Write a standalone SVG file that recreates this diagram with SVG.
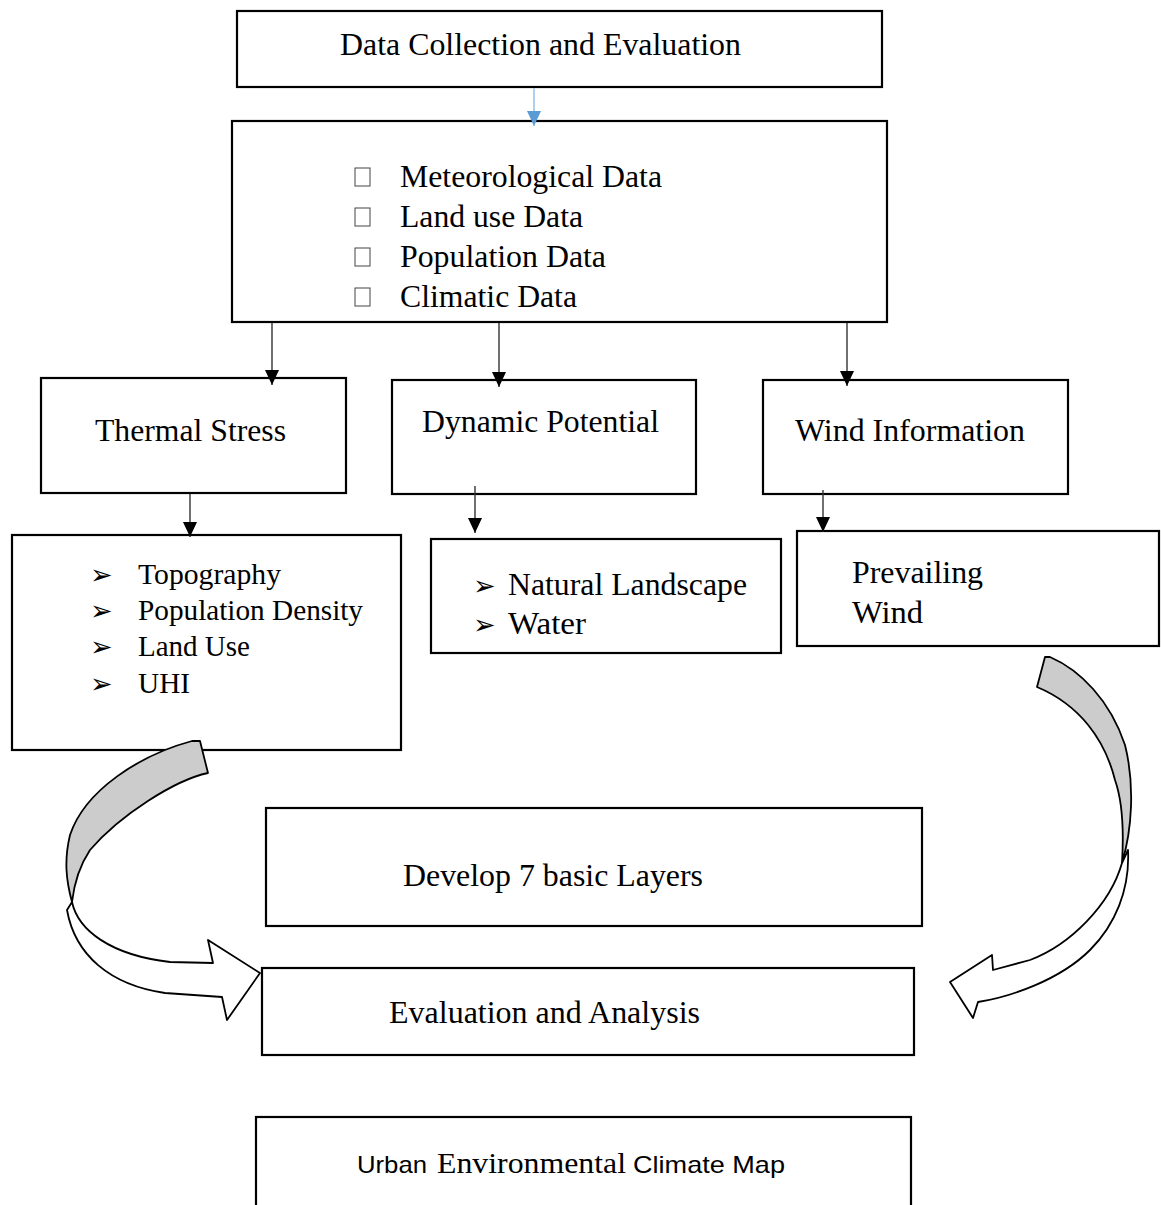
<svg xmlns="http://www.w3.org/2000/svg" width="1161" height="1205" viewBox="0 0 1161 1205">
<defs>
<style>
.box{fill:#fff;stroke:#000;stroke-width:2.2}
.t{font-family:"Liberation Serif","Times New Roman",serif;fill:#000}
.s{font-family:"Liberation Sans",Arial,sans-serif;fill:#000}
.b{font-family:"DejaVu Sans",sans-serif;fill:#000}
.ln{stroke:#333;stroke-width:1.4;fill:none}
.sq{fill:none;stroke:#444;stroke-width:1}
.cv{stroke:#000;stroke-width:1.8;stroke-linejoin:round}
</style>
<marker id="ah" markerUnits="userSpaceOnUse" markerWidth="15" markerHeight="14" viewBox="0 0 15 14" refX="15" refY="7" orient="auto">
<path d="M0,0 L15,7 L0,14 Z" fill="#000"/>
</marker>
<marker id="ahb" markerUnits="userSpaceOnUse" markerWidth="15" markerHeight="14" viewBox="0 0 15 14" refX="15" refY="7" orient="auto">
<path d="M0,0 L15,7 L0,14 Z" fill="#5b9bd5"/>
</marker>
</defs>
<rect width="1161" height="1205" fill="#fff"/>

<g id="n1"><rect class="box" x="237" y="11" width="645" height="76"/>
<text class="t" x="340" y="55" font-size="32" textLength="401" lengthAdjust="spacingAndGlyphs">Data Collection and Evaluation</text></g>

<g id="n2"><rect class="box" x="232" y="121" width="655" height="201"/>
<rect class="sq" x="355" y="168" width="15" height="18"/>
<rect class="sq" x="355" y="208" width="15" height="18"/>
<rect class="sq" x="355" y="248" width="15" height="18"/>
<rect class="sq" x="355" y="288" width="15" height="18" stroke="#aaa"/>
<text class="t" x="400" y="187" font-size="32" textLength="262" lengthAdjust="spacingAndGlyphs">Meteorological Data</text>
<text class="t" x="400" y="227" font-size="32" textLength="183" lengthAdjust="spacingAndGlyphs">Land use Data</text>
<text class="t" x="400" y="267" font-size="32" textLength="206" lengthAdjust="spacingAndGlyphs">Population Data</text>
<text class="t" x="400" y="307" font-size="32" textLength="177" lengthAdjust="spacingAndGlyphs">Climatic Data</text></g>

<g id="n3"><rect class="box" x="41" y="378" width="305" height="115"/>
<text class="t" x="95" y="441" font-size="32" textLength="191" lengthAdjust="spacingAndGlyphs">Thermal Stress</text></g>

<g id="n4"><rect class="box" x="392" y="380" width="304" height="114"/>
<text class="t" x="422" y="432" font-size="32" textLength="237" lengthAdjust="spacingAndGlyphs">Dynamic Potential</text></g>

<g id="n5"><rect class="box" x="763" y="380" width="305" height="114"/>
<text class="t" x="795" y="441" font-size="32" textLength="230" lengthAdjust="spacingAndGlyphs">Wind Information</text></g>

<g id="n6"><rect class="box" x="12" y="535" width="389" height="215"/>
<text class="b" x="90" y="584" font-size="27">➢</text>
<text class="b" x="90" y="620" font-size="27">➢</text>
<text class="b" x="90" y="656" font-size="27">➢</text>
<text class="b" x="90" y="693" font-size="27">➢</text>
<text class="t" x="138" y="584" font-size="29" textLength="143" lengthAdjust="spacingAndGlyphs">Topography</text>
<text class="t" x="138" y="620" font-size="29" textLength="225" lengthAdjust="spacingAndGlyphs">Population Density</text>
<text class="t" x="138" y="656" font-size="29" textLength="112" lengthAdjust="spacingAndGlyphs">Land Use</text>
<text class="t" x="138" y="693" font-size="29" textLength="52" lengthAdjust="spacingAndGlyphs">UHI</text></g>

<g id="n7"><rect class="box" x="431" y="539" width="350" height="114"/>
<text class="b" x="473" y="595" font-size="27">➢</text>
<text class="b" x="473" y="634" font-size="27">➢</text>
<text class="t" x="508" y="595" font-size="32" textLength="239" lengthAdjust="spacingAndGlyphs">Natural Landscape</text>
<text class="t" x="508" y="634" font-size="32" textLength="78" lengthAdjust="spacingAndGlyphs">Water</text></g>

<g id="n8"><rect class="box" x="797" y="531" width="362" height="115"/>
<text class="t" x="852" y="583" font-size="32" textLength="131" lengthAdjust="spacingAndGlyphs">Prevailing</text>
<text class="t" x="852" y="623" font-size="32" textLength="71" lengthAdjust="spacingAndGlyphs">Wind</text></g>

<g id="n9"><rect class="box" x="266" y="808" width="656" height="118"/>
<text class="t" x="403" y="886" font-size="32" textLength="300" lengthAdjust="spacingAndGlyphs">Develop 7 basic Layers</text></g>

<g id="n10"><rect class="box" x="262" y="968" width="652" height="87"/>
<text class="t" x="389" y="1023" font-size="32" textLength="311" lengthAdjust="spacingAndGlyphs">Evaluation and Analysis</text></g>

<g id="n11"><rect class="box" x="256" y="1117" width="655" height="100"/>
<text x="357" y="1173"><tspan class="s" font-size="24" textLength="70" lengthAdjust="spacingAndGlyphs">Urban</tspan><tspan class="t" x="437" font-size="29" textLength="189" lengthAdjust="spacingAndGlyphs">Environmental</tspan><tspan class="s" x="633" font-size="24" textLength="152" lengthAdjust="spacingAndGlyphs">Climate Map</tspan></text></g>

<g id="connectors">
<line x1="534" y1="88" x2="534" y2="126" stroke="#9dc3e6" stroke-width="1.6" marker-end="url(#ahb)"/>
<line class="ln" x1="272" y1="323" x2="272" y2="385" marker-end="url(#ah)"/>
<line class="ln" x1="499" y1="323" x2="499" y2="387" marker-end="url(#ah)"/>
<line class="ln" x1="847" y1="323" x2="847" y2="386" marker-end="url(#ah)"/>
<line class="ln" x1="190" y1="494" x2="190" y2="537" marker-end="url(#ah)"/>
<line class="ln" x1="475" y1="486" x2="475" y2="533" marker-end="url(#ah)"/>
<line class="ln" x1="823" y1="490" x2="823" y2="532" marker-end="url(#ah)"/>
</g>

<g id="curve-left">
<path class="cv" fill="#cccccc" d="M192,741 L200,741 L208,773 C175,780 120,815 90,850 C80,865 74,885 72,902 C66,880 64,860 70,835 C85,790 140,755 192,741 Z"/>
<path class="cv" fill="#fff" d="M72,902 C78,930 110,955 170,962 L213,963 L208,940 L260,973 L227,1020 L222,997 L165,993 C110,985 75,955 67,910 Z"/>
</g>

<g id="curve-right">
<path class="cv" fill="#cccccc" d="M1045,657 L1050,657 C1080,670 1110,700 1125,745 C1135,785 1132,830 1122,863 C1124,830 1122,800 1115,780 C1105,740 1080,705 1037,687 Z"/>
<path class="cv" fill="#fff" d="M1122,863 C1110,905 1070,945 1030,960 L993,970 L992,955 L950,982 L973,1018 L978,1002 C1010,997 1060,980 1090,950 C1115,925 1130,890 1128,850 Z"/>
</g>
</svg>
